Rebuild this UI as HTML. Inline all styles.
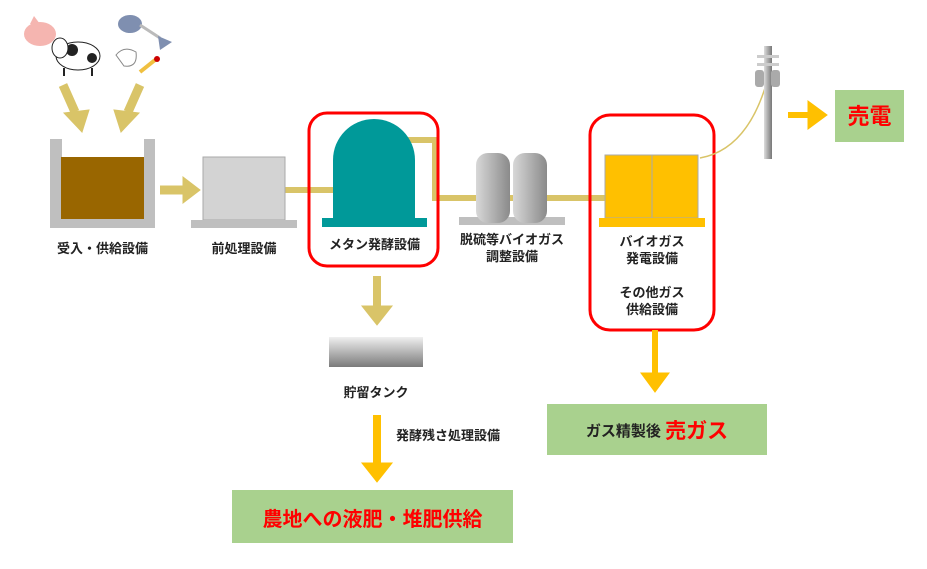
<!DOCTYPE html>
<html><head><meta charset="utf-8"><style>
body{margin:0;background:#fff;font-family:"Liberation Sans","Noto Sans CJK JP",sans-serif;}
.l{position:absolute;font-size:13px;font-weight:bold;color:#222;text-align:center;white-space:nowrap}
</style></head><body>
<div style="position:relative;width:927px;height:569px;overflow:hidden">
<svg width="927" height="569" style="position:absolute;left:0;top:0">
<defs>
<linearGradient id="cy" x1="0" x2="1"><stop offset="0" stop-color="#d8d8d8"/><stop offset="1" stop-color="#8a8a8a"/></linearGradient>
<linearGradient id="tk" x1="0" y1="0" x2="0" y2="1"><stop offset="0" stop-color="#f0f0f0"/><stop offset="1" stop-color="#7a7a7a"/></linearGradient>
<linearGradient id="pl" x1="0" x2="1"><stop offset="0" stop-color="#ddd"/><stop offset="1" stop-color="#777"/></linearGradient>
</defs>
<!-- icons -->
<ellipse cx="40" cy="34" rx="16" ry="12" fill="#f5b5b0"/>
<polygon points="30,24 34,16 40,24" fill="#f5b5b0"/>
<ellipse cx="78" cy="56" rx="22" ry="14" fill="#fff" stroke="#222"/>
<circle cx="72" cy="50" r="6" fill="#222"/><circle cx="92" cy="58" r="5" fill="#222"/>
<ellipse cx="60" cy="48" rx="8" ry="10" fill="#fff" stroke="#222"/>
<line x1="64" y1="68" x2="64" y2="76" stroke="#222" stroke-width="2"/><line x1="92" y1="68" x2="92" y2="76" stroke="#222" stroke-width="2"/>
<ellipse cx="130" cy="24" rx="12" ry="9" fill="#7f8fb0"/>
<path d="M140 25 L160 38" stroke="#bbb" stroke-width="3"/>
<path d="M158 36 L172 42 L160 50Z" fill="#7f8fb0"/>
<path d="M116 55 Q124 45 136 52 Q138 68 124 66Z" fill="#fff" stroke="#888"/>
<path d="M140 72 L155 60" stroke="#f0c040" stroke-width="4"/>
<circle cx="157" cy="59" r="3" fill="#c00"/>
<!-- diagonal arrows -->
<g fill="#d9c468" stroke="#d9c468">
<line x1="63" y1="85" x2="75" y2="112" stroke-width="9"/><polygon points="64,113 89,110 82,132"/>
<line x1="140" y1="85" x2="128" y2="112" stroke-width="9"/><polygon points="139,113 114,110 121,132"/>
<line x1="160" y1="190" x2="185" y2="190" stroke-width="9"/><polygon points="183,177 200,190 183,203"/>
</g>
<path d="M50 139h12v80h82v-80h11v89H50Z" fill="#bfbfbf"/>
<rect x="61" y="157" width="83" height="62" fill="#996600"/>
<g stroke="#d9c468" stroke-width="6" fill="none">
<line x1="285" y1="190" x2="340" y2="190"/>
<polyline points="405,140 435,140 435,198 605,198"/>
</g>
<rect x="203" y="157" width="82" height="63" fill="#d3d3d3" stroke="#aaa"/>
<rect x="191" y="220" width="106" height="8" fill="#bfbfbf"/>
<path d="M333 218V160a41 41 0 0 1 82 0V218Z" fill="#009999"/>
<rect x="322" y="218" width="105" height="9" fill="#009999"/>
<rect x="309" y="113" width="129" height="153" rx="18" fill="none" stroke="#f00" stroke-width="3"/>
<rect x="459" y="217" width="106" height="8" fill="#bfbfbf"/>
<rect x="476" y="153" width="34" height="70" rx="12" fill="url(#cy)"/>
<rect x="513" y="153" width="34" height="70" rx="12" fill="url(#cy)"/>
<rect x="605" y="155" width="93" height="63" fill="#ffc000" stroke="#aaa"/>
<line x1="652" y1="155" x2="652" y2="218" stroke="#aaa"/>
<rect x="599" y="218" width="106" height="9" fill="#ffc000"/>
<rect x="590" y="115" width="124" height="215" rx="20" fill="none" stroke="#f00" stroke-width="3"/>
<path d="M700 158 Q745 150 765 88" stroke="#d9c468" stroke-width="1.5" fill="none"/>
<rect x="764" y="46" width="8" height="113" fill="url(#pl)"/>
<rect x="757" y="55" width="22" height="3" fill="#ccc"/><rect x="757" y="63" width="22" height="3" fill="#ccc"/>
<rect x="755" y="70" width="9" height="17" rx="3" fill="#aaa"/><rect x="771" y="70" width="9" height="17" rx="3" fill="#aaa"/>
<g fill="#ffc000" stroke="#ffc000">
<line x1="788" y1="115" x2="812" y2="115" stroke-width="6"/><polygon points="808,101 827,115 808,129"/>
<line x1="655" y1="330" x2="655" y2="375" stroke-width="6"/><polygon points="641,373 669,373 655,392"/>
<line x1="377" y1="415" x2="377" y2="465" stroke-width="8"/><polygon points="362,463 392,463 377,482"/>
</g>
<g fill="#d9c468" stroke="#d9c468">
<line x1="377" y1="276" x2="377" y2="308" stroke-width="8"/><polygon points="362,306 392,306 377,325"/>
</g>
<rect x="329" y="337" width="94" height="30" fill="url(#tk)"/>
<rect x="835" y="90" width="69" height="52" fill="#a9d18e"/>
<rect x="547" y="404" width="220" height="51" fill="#a9d18e"/>
<rect x="232" y="490" width="281" height="53" fill="#a9d18e"/>
</svg>
<div class="l" style="left:50px;top:238px;width:105px">受入・供給設備</div>
<div class="l" style="left:191px;top:238px;width:106px">前処理設備</div>
<div class="l" style="left:322px;top:234px;width:105px">メタン発酵設備</div>
<div class="l" style="left:452px;top:231px;width:120px;line-height:17px">脱硫等バイオガス<br>調整設備</div>
<div class="l" style="left:592px;top:233px;width:120px;line-height:17px">バイオガス<br>発電設備<br><br>その他ガス<br>供給設備</div>
<div class="l" style="left:329px;top:382px;width:94px">貯留タンク</div>
<div class="l" style="left:396px;top:425px;">発酵残さ処理設備</div>
<div class="l" style="left:835px;top:99px;width:69px;font-size:22px;color:#f00">売電</div>
<div class="l" style="left:547px;top:415px;width:220px;font-size:15px;">ガス精製後 <span style="font-size:21px;color:#f00;vertical-align:-2px">売ガス</span></div>
<div class="l" style="left:232px;top:503px;width:281px;font-size:20px;color:#f00">農地への液肥・堆肥供給</div>
</div>
</body></html>
